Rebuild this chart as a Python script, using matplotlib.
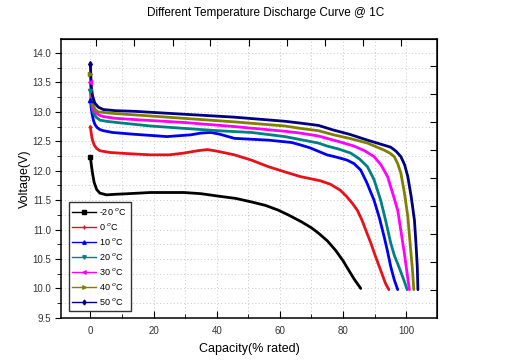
import matplotlib
matplotlib.use("Agg")
import matplotlib.pyplot as plt
from matplotlib.lines import Line2D
import numpy as np

plt.rcParams["font.family"] = ["Liberation Sans", "DejaVu Sans"]

# capacity (% rated) / voltage (V)
cap_m20 = [0, 0.3, 0.7, 1.2, 2.0, 3.0, 5.1, 8, 12, 19, 29.6, 35, 40.3, 46, 51, 55.5, 59.5, 63, 66.9,
           70, 72.2, 75, 77.6, 80, 81.8, 83.5, 85.6]
v_m20 = [12.24, 12.1, 11.95, 11.8, 11.68, 11.62, 11.59, 11.6, 11.61, 11.63, 11.63, 11.61, 11.57, 11.53,
         11.47, 11.41, 11.33, 11.24, 11.13, 11.03, 10.94, 10.81, 10.65, 10.47, 10.31, 10.16, 10.0]

cap_0 = [0, 0.3, 0.67, 1.2, 1.95, 3.0, 6.2, 12, 19, 25, 29.6, 34, 37.1, 40.3, 45.6, 51, 56.3, 61.6,
         66.5, 72.8, 76, 79.1, 81, 82.9, 84.5, 86, 87.2, 88.8, 90.3, 91.9, 93.4, 94.5]
v_0 = [12.75, 12.62, 12.52, 12.44, 12.38, 12.34, 12.31, 12.29, 12.27, 12.27, 12.30, 12.34, 12.36, 12.33,
       12.27, 12.18, 12.07, 11.98, 11.90, 11.83, 11.77, 11.67, 11.57, 11.45, 11.33, 11.16, 10.99, 10.77,
       10.54, 10.31, 10.09, 9.98]

cap_10 = [0, 0.3, 0.6, 1.0, 1.5, 2.2, 3.0, 4.1, 7, 13.7, 24.3, 31.8, 35, 38.2, 41, 45.6, 56.3, 63.7,
          66.4, 69.5, 72.2, 74.9, 78, 81.3, 83.5, 85.6, 87.5, 89.8, 91.5, 93.0, 94.0, 95.1, 96.2, 97.3]
v_10 = [13.2, 13.05, 12.95, 12.85, 12.78, 12.73, 12.70, 12.68, 12.65, 12.62, 12.58, 12.61, 12.64, 12.65,
        12.62, 12.55, 12.52, 12.48, 12.44, 12.39, 12.33, 12.27, 12.23, 12.18, 12.12, 12.01, 11.80, 11.50,
        11.20, 10.88, 10.65, 10.37, 10.15, 9.98]

cap_20 = [0, 0.3, 0.6, 1.0, 1.8, 3.0, 5, 8.3, 19, 29.6, 40.3, 51, 61.6, 66.4, 72.2, 74.9, 78.5, 82.4,
          85.2, 87.7, 89.8, 91.9, 93.5, 95.1, 96.3, 97.3, 98.5, 99.4, 100.3]
v_20 = [13.35, 13.15, 13.05, 12.98, 12.91, 12.86, 12.84, 12.82, 12.76, 12.72, 12.68, 12.65, 12.58, 12.53,
        12.47, 12.42, 12.37, 12.30, 12.20, 12.07, 11.85, 11.50, 11.15, 10.77, 10.55, 10.42, 10.25, 10.12,
        9.98]

cap_30 = [0, 0.3, 0.6, 1.0, 1.8, 3.0, 4.1, 8, 13.7, 29.6, 45.6, 61.6, 66.4, 72.2, 74.9, 79, 83.4, 86.8,
          89.8, 92.0, 94.1, 95.8, 97.3, 98.4, 99.4, 100.3, 101.0]
v_30 = [13.5, 13.25, 13.12, 13.04, 12.98, 12.94, 12.92, 12.89, 12.87, 12.82, 12.75, 12.67, 12.64, 12.59,
        12.55, 12.49, 12.42, 12.34, 12.24, 12.10, 11.90, 11.60, 11.33, 10.95, 10.60, 10.25, 9.98]

cap_40 = [0, 0.3, 0.7, 1.5, 2.5, 4.1, 8, 13.7, 29.6, 45.6, 61.6, 66.4, 72.2, 77, 82, 87.7, 93.0, 94.8,
          96.2, 97.3, 98.3, 99.5, 100.5, 101.5, 102.0, 102.4]
v_40 = [13.65, 13.35, 13.15, 13.04, 13.0, 12.99, 12.97, 12.95, 12.89, 12.83, 12.76, 12.72, 12.68, 12.61,
        12.55, 12.47, 12.35, 12.30, 12.24, 12.12, 11.96, 11.60, 11.22, 10.60, 10.30, 9.98]

cap_50 = [0, 0.15, 0.3, 0.7, 1.4, 2.5, 4.1, 8, 13.7, 29.6, 45.6, 61.6, 66.4, 72.2, 77, 82, 87.7, 92,
          95.1, 96.8, 98.3, 99.5, 100.5, 101.6, 102.6, 103.1, 103.5, 103.7]
v_50 = [13.81, 13.6, 13.43, 13.27, 13.15, 13.08, 13.04, 13.02, 13.01, 12.96, 12.91, 12.84, 12.81, 12.77,
        12.69, 12.62, 12.52, 12.45, 12.40, 12.33, 12.24, 12.10, 11.90, 11.55, 11.16, 10.75, 10.37, 9.98]

labels = ["-20 $^{o}$C", "0 $^{o}$C", "10 $^{o}$C", "20 $^{o}$C", "30 $^{o}$C", "40 $^{o}$C", "50 $^{o}$C"]
colors = ["#000000", "#e8101a", "#0000f0", "#008080", "#ff00ff", "#808000", "#000080"]
markers = ["s", "+", "^", "v", "<", ">", "d"]

# odd extra tick sets on the top and right frames (other layer)
top_ticks = [1.8, 13.9, 26.0, 38.0, 50.1, 62.2, 74.2, 86.3, 98.4]
right_ticks = [13.78, 13.30, 12.82, 12.35, 11.87, 11.40, 10.93, 10.45, 9.98]

fig = plt.figure(figsize=(5.17, 3.6), dpi=100)
ax = fig.add_axes([0.118, 0.117, 0.727, 0.775])

series = [(cap_m20, v_m20), (cap_0, v_0), (cap_10, v_10), (cap_20, v_20),
          (cap_30, v_30), (cap_40, v_40), (cap_50, v_50)]
for (x, y), c, m in zip(series, colors, markers):
    ax.plot(x, y, color=c, lw=2.0, solid_joinstyle="round", solid_capstyle="round", zorder=3)
    ax.plot(x[:1], y[:1], marker=m, ms=3, color=c, zorder=4)

ax.set_xlim(-9.3, 109.7)
ax.set_ylim(9.5, 14.24)
ax.set_xticks([0, 20, 40, 60, 80, 100])
ax.set_xticks([10, 30, 50, 70, 90], minor=True)
ax.set_yticks(np.arange(9.5, 14.01, 0.5))
ax.set_yticks(np.arange(9.75, 14.0, 0.5), minor=True)
ax.grid(True, which="both", color="#c8c8c8", ls=(0, (1, 2.5)), lw=0.7, zorder=0)

ax.tick_params(axis="x", which="both", direction="in", top=False, labelsize=7,
               labelcolor="#333333", pad=6)
ax.tick_params(axis="x", which="major", length=5)
ax.tick_params(axis="x", which="minor", length=3)
ax.tick_params(axis="y", which="both", direction="out", right=False, labelsize=7,
               labelcolor="#333333", pad=3)
ax.tick_params(axis="y", which="major", length=4)
ax.tick_params(axis="y", which="minor", length=3)
ax.yaxis.set_major_formatter(matplotlib.ticker.FormatStrFormatter("%.1f"))

for s in ax.spines.values():
    s.set_linewidth(1.1)

ax_top = ax.secondary_xaxis("top")
ax_top.set_xticks(top_ticks)
ax_top.tick_params(direction="in", length=5, labeltop=False)
ax_right = ax.secondary_yaxis("right")
ax_right.set_yticks(right_ticks)
ax_right.tick_params(direction="in", length=5, labelright=False)

ax.set_xlabel("Capacity(% rated)", fontsize=9, labelpad=5)
ax.set_ylabel("Voltage(V)", fontsize=9, labelpad=1)
fig.text(0.513, 0.963, "Different Temperature Discharge Curve @ 1C", ha="center", va="center", fontsize=8.5)

handles = [Line2D([0], [0], color=c, lw=1.0, marker=m, ms=2.5) for c, m in zip(colors, markers)]
leg = ax.legend(handles, labels, loc="lower left", bbox_to_anchor=(0.02, 0.025), fontsize=6.5,
                frameon=True, fancybox=False, edgecolor="black", handlelength=2.6,
                handletextpad=0.4, labelspacing=0.45, borderpad=0.4, borderaxespad=0.0)
leg.get_frame().set_linewidth(1.0)

fig.savefig("out.png", dpi=100)
